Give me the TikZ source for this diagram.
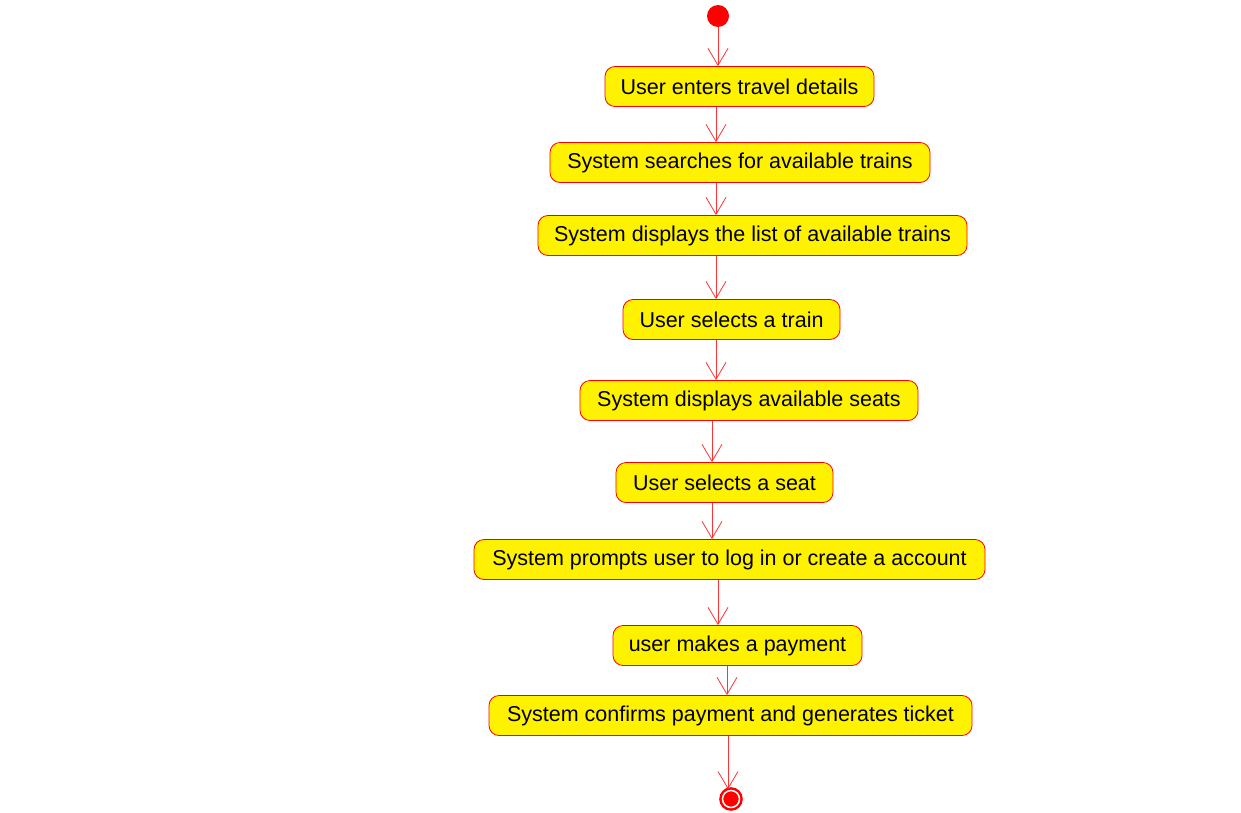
\documentclass[tikz,border=0pt]{standalone}
\usepackage{fontspec}
\setmainfont{Liberation Sans}
\usetikzlibrary{arrows.meta}
\begin{document}
\begin{tikzpicture}
  [x=1pt,y=-1pt,
   every node/.style={font=\fontsize{21.5}{25}\selectfont},
   action/.style={draw=red,fill=yellow,rounded corners=10pt,line width=0.8pt,
     minimum height=40pt,inner xsep=0pt,anchor=center},
   flow/.style={draw=red!80,line width=0.8pt,-{Straight Barb[length=17pt,width=20pt,line width=0.8pt]}}]
  \useasboundingbox (0,0) rectangle (1241,813);
  \node[circle,fill=red,minimum size=22pt,inner sep=0pt] (start) at (718,16) {};
  \node[action,minimum width=269pt] (a1) at (739.5,86.5) {User enters travel details};
  \node[action,minimum width=380pt] (a2) at (740,162.5) {System searches for available trains};
  \node[action,minimum width=429pt] (a3) at (752.5,235.5) {System displays the list of available trains};
  \node[action,minimum width=217pt] (a4) at (731.5,319.5) {User selects a train};
  \node[action,minimum width=338pt] (a5) at (749,400.5) {System displays available seats};
  \node[action,minimum width=217pt] (a6) at (724.5,482.5) {User selects a seat};
  \node[action,minimum width=511pt] (a7) at (729.5,559.5) {System prompts user to log in or create a account};
  \node[action,minimum width=249pt] (a8) at (737.5,645.5) {user makes a payment};
  \node[action,minimum width=483pt] (a9) at (730.5,715.5) {System confirms payment and generates ticket};
  \node[circle,draw=red,line width=2.5pt,fill=red,double=white,double distance=1.5pt,
    minimum size=17pt,inner sep=0pt] (stop) at (731,799) {};

  \draw[flow] (start) -- (a1.north -| start);
  \foreach \from/\to/\xx in {a1/a2/716,a2/a3/716,a3/a4/716,a4/a5/716,
                             a5/a6/712,a6/a7/712,a7/a8/718,a8/a9/727,a9/stop/728}
     \draw[flow] (\from.south -| \xx,0) -- (\to.north -| \xx,0);
\end{tikzpicture}
\end{document}
